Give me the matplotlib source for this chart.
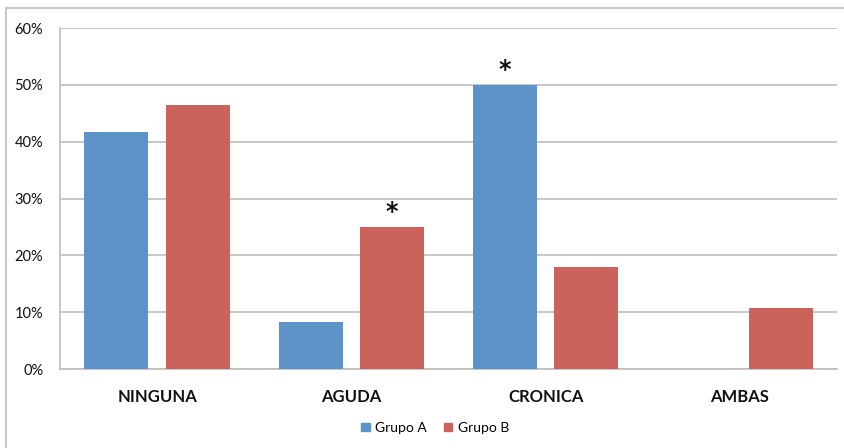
import matplotlib.pyplot as plt
import numpy as np
from matplotlib.lines import Line2D
from matplotlib.patches import Patch

plt.rcParams['font.family'] = ['Lato', 'DejaVu Sans']

categorias = ['NINGUNA', 'AGUDA', 'CRONICA', 'AMBAS']
grupo_a = [41.7, 8.3, 50.0, 0.0]
grupo_b = [46.4, 25.0, 17.9, 10.7]
# asterisco sobre (serie, categoria)
significativos = [('B', 1), ('A', 2)]

color_a = '#5E93C9'
color_b = '#CB625C'

fig = plt.figure(figsize=(8.45, 4.48), dpi=100)
ax = fig.add_axes([0.071, 0.176, 0.9195, 0.7615])

x = np.arange(len(categorias))
ancho = 0.33
desp = 0.21
barras_a = ax.bar(x - desp, grupo_a, ancho, color=color_a, zorder=3)
barras_b = ax.bar(x + desp, grupo_b, ancho, color=color_b, zorder=3)

for serie, i in significativos:
    vals = grupo_a if serie == 'A' else grupo_b
    xp = x[i] - desp if serie == 'A' else x[i] + desp
    ax.text(xp, vals[i] + 2.6, '*', ha='center', va='center',
            fontsize=17, fontweight='bold', color='#111111',
            family='DejaVu Sans')

ax.set_xlim(-0.5, len(categorias) - 0.5)
ax.set_ylim(0, 60)
ax.set_yticks(range(0, 61, 10))
ax.set_yticklabels([f'{v}%' for v in range(0, 61, 10)], fontsize=10.5)
ax.set_xticks(x)
ax.set_xticklabels(categorias, fontsize=12, fontweight='bold')
ax.tick_params(axis='both', length=0, colors='#111111')
ax.tick_params(axis='y', pad=12)
ax.tick_params(axis='x', pad=14)

ax.grid(axis='y', color='#BDBDBD', linewidth=1.2, zorder=0)
for lado in ['top', 'right']:
    ax.spines[lado].set_visible(False)
for lado in ['left', 'bottom']:
    ax.spines[lado].set_color('#BDBDBD')
    ax.spines[lado].set_linewidth(1.2)

handles = [Patch(color=color_a, label='Grupo A'),
           Patch(color=color_b, label='Grupo B')]
fig.legend(handles=handles, loc='center', bbox_to_anchor=(0.515, 0.045),
           ncol=2, frameon=False, fontsize=10, handlelength=0.6,
           handleheight=0.6, handletextpad=0.4, columnspacing=1.2)

# marco exterior del grafico
fig.add_artist(Line2D([6 / 845, 1.0], [1 - 8 / 448, 1 - 8 / 448],
                      transform=fig.transFigure, color='#C8C8C8', linewidth=1.5))
fig.add_artist(Line2D([6 / 845, 6 / 845], [0.0, 1 - 8 / 448],
                      transform=fig.transFigure, color='#C8C8C8', linewidth=1.5))

fig.savefig('out.png', dpi=100)
